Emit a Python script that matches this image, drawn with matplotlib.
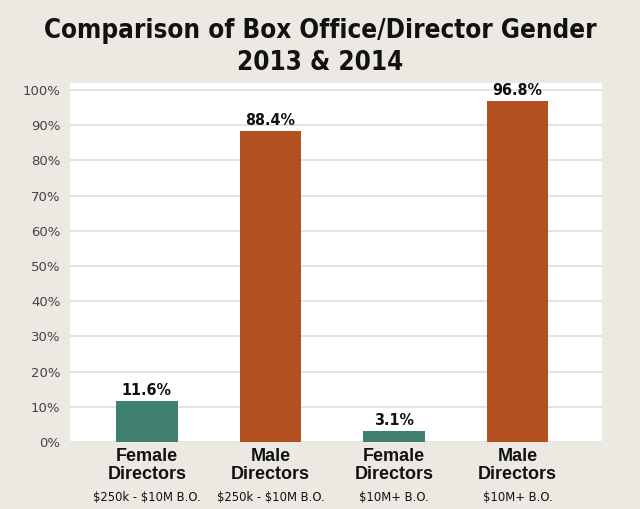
import matplotlib
matplotlib.use("Agg")
import matplotlib.pyplot as plt
from matplotlib import font_manager
from matplotlib.font_manager import FontProperties

categories = ["Female\nDirectors", "Male\nDirectors", "Female\nDirectors", "Male\nDirectors"]
sublabels = ["\\$250k - \\$10M B.O.", "\\$250k - \\$10M B.O.", "\\$10M+ B.O.", "\\$10M+ B.O."]
values = [11.6, 88.4, 3.1, 96.8]
value_labels = ["11.6%", "88.4%", "3.1%", "96.8%"]
colors = ["#3f7f6e", "#b3501f", "#3f7f6e", "#b3501f"]
yticks = [0, 10, 20, 30, 40, 50, 60, 70, 80, 90, 100]
ytick_labels = [f"{t}%" for t in yticks]


def find_condensed(bold):
    cands = []
    for f in font_manager.fontManager.ttflist:
        nm = f.name.lower()
        fn = f.fname.lower()
        is_cond = ("condensed" in nm or "narrow" in nm or "condensed" in fn or "narrow" in fn
                   or str(f.stretch).lower() in ("condensed", "semi-condensed", "extra-condensed"))
        if not is_cond:
            continue
        w = f.weight if isinstance(f.weight, int) else {"bold": 700, "normal": 400}.get(str(f.weight), 400)
        if bold and w < 600:
            continue
        if not bold and w >= 600:
            continue
        if "italic" in fn or "oblique" in fn or f.style != "normal":
            continue
        cands.append(f.fname)
    cands.sort()
    return FontProperties(fname=cands[0]) if cands else None


cond_bold = find_condensed(True)
cond_reg = find_condensed(False)
have_cond = cond_bold is not None

bg = "#ece9e2"
fig = plt.figure(figsize=(6.4, 5.09), dpi=100, facecolor=bg)
ax = fig.add_axes([70/640, 1-442/509, 532/640, 359/509])
ax.set_facecolor("white")

x = list(range(len(values)))
ax.bar(x, values, width=0.5, color=colors, zorder=3)
ax.set_xlim(-0.623, 3.685)
ax.set_ylim(0, 102)
ax.set_yticks(yticks)
ax.set_yticklabels(ytick_labels, fontsize=9.5, color="#444444", family="DejaVu Sans")
ax.yaxis.grid(True, color="#dedede", linewidth=1.2, zorder=0)
ax.tick_params(axis="y", length=0, pad=7)
ax.set_xticks([])
for s in ax.spines.values():
    s.set_visible(False)


def fp(bold, size):
    if have_cond:
        base = cond_bold if bold else (cond_reg if cond_reg is not None else cond_bold)
        p = base.copy()
        p.set_size(size)
        return p
    return FontProperties(family="DejaVu Sans", weight="bold" if bold else "normal", size=size)


for xi, v, lab in zip(x, values, value_labels):
    ax.text(xi, v + 0.8, lab, ha="center", va="bottom",
            fontproperties=fp(True, 11.5 if have_cond else 11), color="#111111")

for xi, cat, sub in zip(x, categories, sublabels):
    ax.annotate(cat, xy=(xi, 0), xycoords=("data", "axes fraction"),
                xytext=(0, -4), textcoords="offset points", ha="center", va="top",
                fontsize=13, fontweight="bold", family="Liberation Sans",
                color="#111111", linespacing=1.1)
    ax.annotate(sub, xy=(xi, 0), xycoords=("data", "axes fraction"),
                xytext=(0, -35), textcoords="offset points", ha="center", va="top",
                fontproperties=fp(False, 9.3 if have_cond else 8.5), color="#111111")

t1 = fig.text(0.5, 1-31/509, "Comparison of Box Office/Director Gender", ha="center", va="center",
              fontproperties=fp(True, 27), color="#111111")
t2 = fig.text(0.5, 1-63/509, "2013 & 2014", ha="center", va="center",
              fontproperties=fp(True, 27), color="#111111")

# fit the title width to the reference width (~553 px)
fig.canvas.draw()
w = t1.get_window_extent().width
if w > 560:
    s = 27 * 553 / w
    t1.set_fontsize(s)
    t2.set_fontsize(s)

fig.savefig("out.png", dpi=100, facecolor=bg)
